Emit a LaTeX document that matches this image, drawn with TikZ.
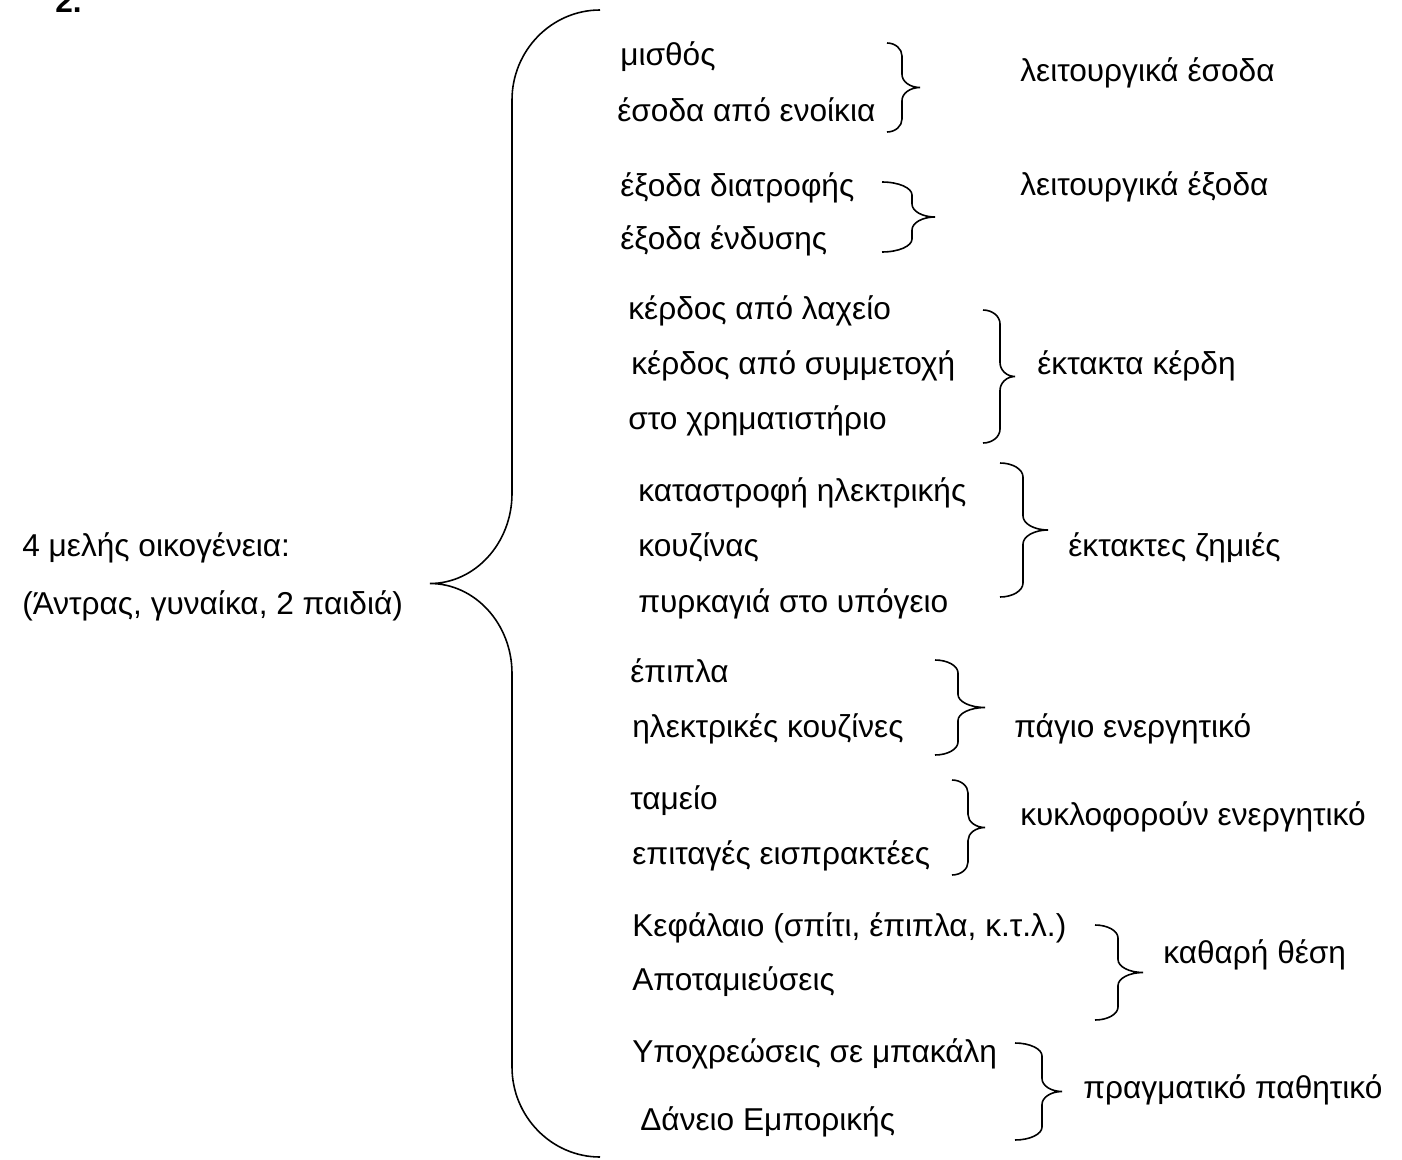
\documentclass[tikz,border=0pt]{standalone}
\usepackage{fontspec}
\setmainfont{Liberation Sans}

% right-facing curly brace: x of ends, y top, y bottom, x of spine, x of tip, curl
\newcommand{\bracepath}[6]{%
  \draw[brace line] (#1,#2)
    .. controls ({#1+0.55*(#4-#1)},#2) and (#4,{#2+0.45*#6}) .. (#4,{#2+#6})
    -- (#4,{(#2+#3)/2-#6})
    .. controls (#4,{(#2+#3)/2-0.45*#6}) and ({#4+0.45*(#5-#4)},{(#2+#3)/2}) .. (#5,{(#2+#3)/2})
    .. controls ({#4+0.45*(#5-#4)},{(#2+#3)/2}) and (#4,{(#2+#3)/2+0.45*#6}) .. (#4,{(#2+#3)/2+#6})
    -- (#4,{#3-#6})
    .. controls (#4,{#3-0.45*#6}) and ({#1+0.55*(#4-#1)},#3) .. (#1,#3);}

\begin{document}
\begin{tikzpicture}[x=0.02cm, y=-0.02cm,
	txt/.style={anchor=base west, inner sep=0pt, font=\fontsize{18}{21}\selectfont},
	brace line/.style={line width=0.9pt}]
	\useasboundingbox (0,0) rectangle (1402,1159);

	\node[txt, font=\fontsize{18}{21}\selectfont\bfseries] (num) at (55,13) {2.};

	\node[txt] (fam) at (22,556) {4 μελής οικογένεια:};
	\node[txt] (mem) at (22,614) {(Άντρας, γυναίκα, 2 παιδιά)};

	\node[txt] (sal) at (620,66) {μισθός};
	\node[txt] (rent) at (617,121) {έσοδα από ενοίκια};
	\node[txt] (food) at (620,196) {έξοδα διατροφής};
	\node[txt] (cloth) at (620,249) {έξοδα ένδυσης};
	\node[txt] (lot) at (628,319) {κέρδος από λαχείο};
	\node[txt] (stk) at (631,374) {κέρδος από συμμετοχή};
	\node[txt] (stk2) at (628,429) {στο χρηματιστήριο};
	\node[txt] (dmg) at (638,501) {καταστροφή ηλεκτρικής};
	\node[txt] (dmg2) at (638,556) {κουζίνας};
	\node[txt] (fire) at (638,612) {πυρκαγιά στο υπόγειο};
	\node[txt] (furn) at (630,682) {έπιπλα};
	\node[txt] (cook) at (632,737) {ηλεκτρικές κουζίνες};
	\node[txt] (cash) at (630,809) {ταμείο};
	\node[txt] (chq) at (632,864) {επιταγές εισπρακτέες};
	\node[txt] (cap) at (632,936) {Κεφάλαιο (σπίτι, έπιπλα, κ.τ.λ.)};
	\node[txt] (sav) at (632,990) {Αποταμιεύσεις};
	\node[txt] (grc) at (632,1062) {Υποχρεώσεις σε μπακάλη};
	\node[txt] (loan) at (640,1130) {Δάνειο Εμπορικής};

	\node[txt] (opinc) at (1020,82) {λειτουργικά έσοδα};
	\node[txt] (opexp) at (1020,195) {λειτουργικά έξοδα};
	\node[txt] (gain) at (1037,374) {έκτακτα κέρδη};
	\node[txt] (loss) at (1068,556) {έκτακτες ζημιές};
	\node[txt] (fixed) at (1014,737) {πάγιο ενεργητικό};
	\node[txt] (curr) at (1020,825) {κυκλοφορούν ενεργητικό};
	\node[txt] (eq) at (1163,963) {καθαρή θέση};
	\node[txt] (liab) at (1083,1098) {πραγματικό παθητικό};

	% braces
	\bracepath{600}{10}{1157}{512}{430}{90}
	\bracepath{887}{43}{132}{902}{920}{13}
	\bracepath{882}{182}{252}{912}{935}{13}
	\bracepath{983}{310}{443}{1000}{1015}{14}
	\bracepath{1000}{463}{597}{1023}{1048}{14}
	\bracepath{935}{660}{755}{958}{985}{13}
	\bracepath{952}{780}{875}{968}{985}{13}
	\bracepath{1095}{925}{1020}{1118}{1143}{13}
	\bracepath{1015}{1043}{1140}{1042}{1062}{13}
\end{tikzpicture}
\end{document}
